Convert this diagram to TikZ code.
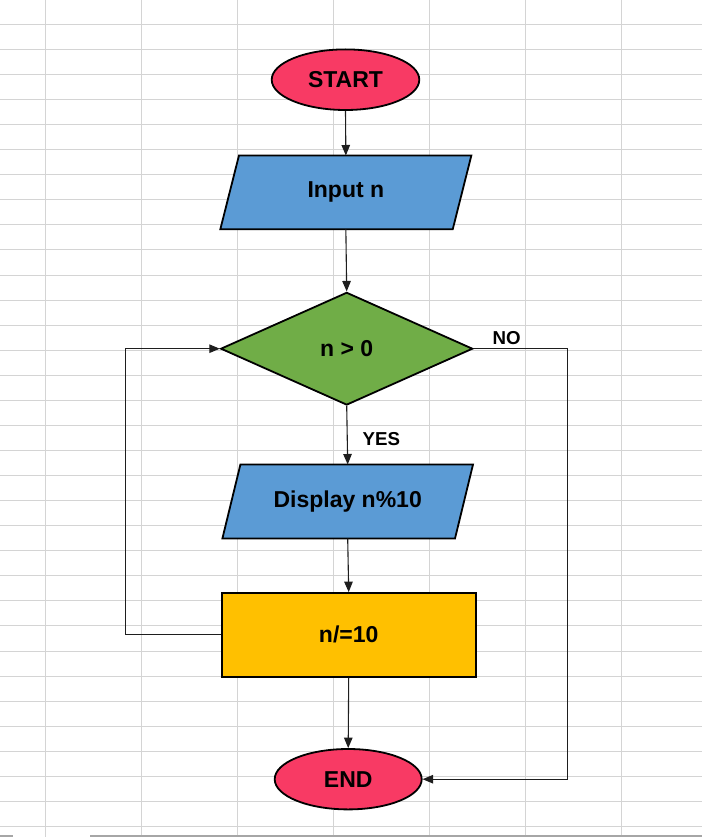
\documentclass[tikz,border=0pt]{standalone}
\usepackage{fontspec}
\setmainfont{Liberation Sans}
\usetikzlibrary{shapes.geometric,arrows.meta}
\definecolor{startred}{RGB}{248,58,100}
\definecolor{ioblue}{RGB}{91,155,213}
\definecolor{decgreen}{RGB}{112,173,71}
\definecolor{procyellow}{RGB}{255,192,0}
\definecolor{gridgray}{RGB}{212,212,212}
\definecolor{edgegray}{RGB}{166,166,166}
\definecolor{linedark}{RGB}{30,30,30}
\pgfdeclarelayer{gridl}
\pgfdeclarelayer{shapel}
\pgfsetlayers{gridl,shapel,main}
\tikzset{
  shapeborder/.style={draw=black,line width=1.8pt,inner sep=0pt,
    font=\fontsize{23}{26}\selectfont\bfseries,text=black},
  terminal/.style={shapeborder,ellipse,fill=startred},
  iobox/.style={inner sep=0pt,font=\fontsize{23}{26}\selectfont\bfseries,text=black},
  ioshape/.style={draw=black,line width=1.8pt,fill=ioblue,line join=miter},
  decision/.style={shapeborder,diamond,aspect=2.2,fill=decgreen},
  process/.style={shapeborder,rectangle,fill=procyellow},
  flow/.style={draw=linedark,line width=1.1pt,-{Triangle[length=10.5pt,width=8.5pt]}},
  flowlabel/.style={font=\fontsize{18.7}{22}\selectfont\bfseries,text=black,inner sep=0pt},
  gridline/.style={draw=gridgray,line width=1pt}
}
\begin{document}
\begin{tikzpicture}[x=1pt,y=-1pt]
\useasboundingbox (0,0) rectangle (702,837);
% spreadsheet grid
\begin{pgfonlayer}{gridl}
\foreach \k in {0,...,6} \draw[gridline] ({45.3+96.07*\k},0) -- ({45.3+96.07*\k},837);
\foreach \k in {0,...,32} \draw[gridline] (0,{24.3+25.07*\k}) -- (702,{24.3+25.07*\k});
\draw[draw=edgegray,line width=1.2pt] (0,836) -- (13,836);
\draw[draw=edgegray,line width=1.2pt] (90,836) -- (702,836);
\end{pgfonlayer}
% nodes
\node[terminal,minimum width=147.6pt,minimum height=60.6pt] (start) at (345.5,79.7) {START};
\node[iobox,minimum width=232pt,minimum height=73.3pt] (in) at (345.85,192.35) {Input n};
\node[decision,minimum width=252pt,minimum height=112.7pt] (dec) at (346.7,348.7) {n > 0};
\node[iobox,minimum width=232.2pt,minimum height=73.6pt] (disp) at (347.7,501.5) {Display n\%10};
\node[process,minimum width=254pt,minimum height=83.7pt] (div) at (348.7,634.85) {n/=10};
\node[terminal,minimum width=147pt,minimum height=60.4pt] (end) at (348.2,779.2) {END};
\begin{pgfonlayer}{shapel}
\draw[ioshape] ([xshift=9.3pt]in.north west) -- ([xshift=9.3pt]in.north east)
  -- ([xshift=-9.3pt]in.south east) -- ([xshift=-9.3pt]in.south west) -- cycle;
\draw[ioshape] ([xshift=9pt]disp.north west) -- ([xshift=9pt]disp.north east)
  -- ([xshift=-9pt]disp.south east) -- ([xshift=-9pt]disp.south west) -- cycle;
\end{pgfonlayer}
\coordinate (noturn) at (567.3,348.7);
\coordinate (loopx) at (125.7,635.7);
\node[flowlabel] (nolab) at (506.7,338.3) {NO};
\node[flowlabel] (yeslab) at (381.3,439) {YES};
% connectors
\draw[flow] (start.south) -- (in.north);
\draw[flow] (in.south) -- (dec.north);
\draw[flow] (dec.south) -- (disp.north);
\draw[flow] (disp.south) -- (div.north);
\draw[flow] (div.south) -- (end.north);
\draw[flow] (dec.east) -- (noturn) |- (end.east);
\draw[flow] (div.west) -- (div.west -| loopx) |- (dec.west);
\end{tikzpicture}
\end{document}
